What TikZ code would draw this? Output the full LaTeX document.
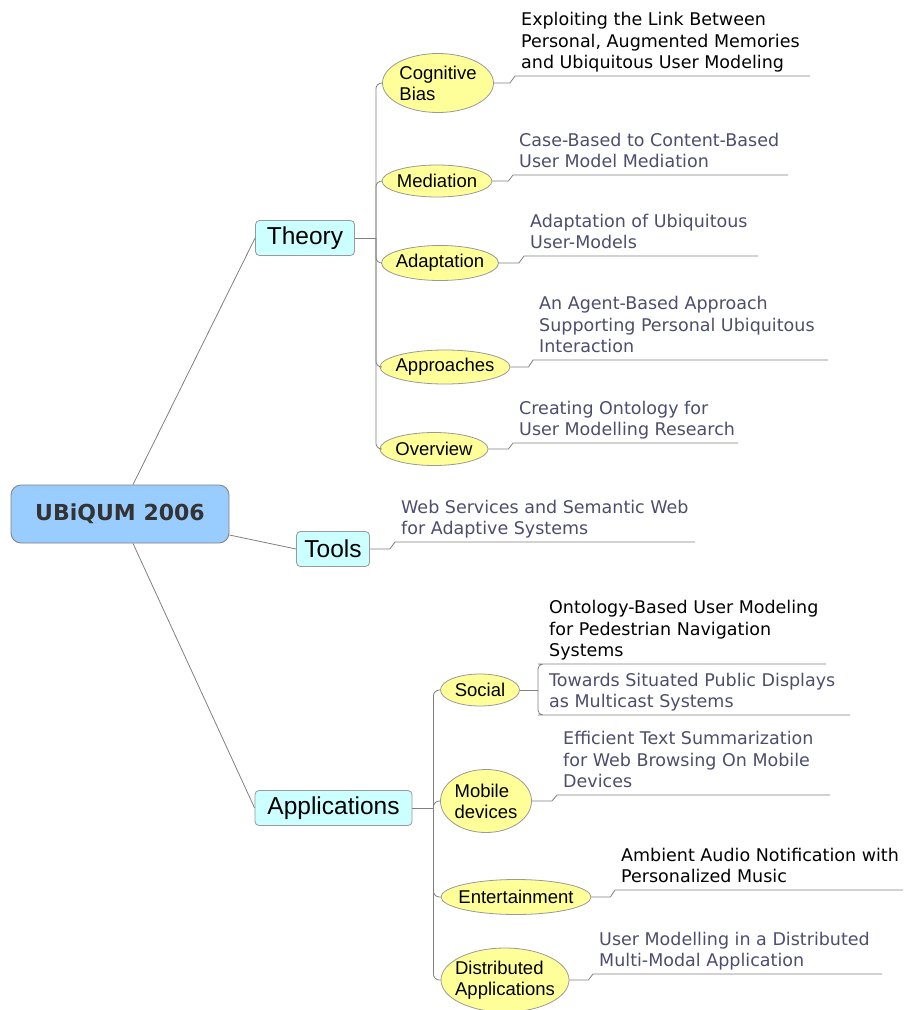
\documentclass[tikz,border=0pt]{standalone}
\usepackage{fontspec}
\usetikzlibrary{shapes.geometric}
\newfontfamily\leaffont{DejaVu Sans}
\newfontfamily\labfont{Liberation Sans}
\definecolor{rootblue}{HTML}{99CCFF}
\definecolor{topiccyan}{HTML}{CCFFFF}
\definecolor{ideayellow}{HTML}{FFFF99}
\definecolor{slate}{HTML}{4D4D6E}
\definecolor{wire}{HTML}{808080}
\begin{document}
\begin{tikzpicture}[x=1pt,y=-1pt,
  root/.style={draw=wire,line width=0.8pt,fill=rootblue,rounded corners=10pt,minimum width=218pt,minimum height=58pt,font=\fontsize{22}{26}\selectfont\leaffont\bfseries,text=black!80},
  topic/.style={draw=wire!80,line width=0.8pt,fill=topiccyan,rounded corners=4pt,minimum height=35pt,inner xsep=4pt,font=\fontsize{24.5}{28}\selectfont\labfont},
  idea/.style={ellipse,draw=wire!80,line width=0.8pt,fill=ideayellow,inner xsep=-6pt,inner ysep=0pt,align=left,font=\fontsize{18.5}{21}\selectfont\labfont},
  paper/.style={anchor=south west,inner xsep=6pt,inner ysep=0.5pt,align=left,text=slate,font=\fontsize{17.5}{21.5}\selectfont\leaffont,execute at end node=\strut},
  edge/.style={draw=wire,line width=0.8pt}]
\useasboundingbox (0,0) rectangle (903,1010);

% central topic and main branches
\node[root] (ubi) at (120,514) {UBiQUM 2006};
\node[topic,minimum width=99pt] (th) at (305,238) {Theory};
\node[topic,minimum width=73pt] (tl) at (333,549) {Tools};
\node[topic,minimum width=157pt] (ap) at (333.5,808) {Applications};

% sub topics
\node[idea,minimum width=111pt,minimum height=59pt] (cb) at (438,83) {Cognitive\\Bias};
\node[idea,minimum width=110pt,minimum height=32pt] (med) at (437,181) {Mediation};
\node[idea,minimum width=117pt,minimum height=35pt] (ada) at (440,263) {Adaptation};
\node[idea,minimum width=130pt,minimum height=34pt] (apr) at (445,367) {Approaches};
\node[idea,minimum width=108pt,minimum height=33pt] (ovw) at (434,449) {Overview};
\node[idea,minimum width=79pt,minimum height=32pt] (soc) at (480,690) {Social};
\node[idea,minimum width=91pt,minimum height=63pt] (mob) at (486,801) {Mobile\\devices};
\node[idea,minimum width=150pt,minimum height=35pt] (ent) at (516,897) {Entertainment};
\node[idea,minimum width=128pt,minimum height=64pt] (dis) at (505,980) {Distributed\\Applications};

% papers
\node[paper,text=black] (p1) at (515,76) {Exploiting the Link Between\\Personal, Augmented Memories\\and Ubiquitous User Modeling};
\node[paper] (p2) at (513,175) {Case-Based to Content-Based\\User Model Mediation};
\node[paper] (p3) at (524,256) {Adaptation of Ubiquitous\\User-Models};
\node[paper] (p4) at (533,360) {An Agent-Based Approach\\Supporting Personal Ubiquitous\\Interaction};
\node[paper] (p5) at (513,443) {Creating Ontology for\\User Modelling Research};
\node[paper] (p6) at (395,542) {Web Services and Semantic Web\\for Adaptive Systems};
\node[paper,text=black] (p7) at (543,664) {Ontology-Based User Modeling\\for Pedestrian Navigation\\Systems};
\node[paper] (p8) at (543,715) {Towards Situated Public Displays\\as Multicast Systems};
\node[paper] (p9) at (557,795) {Efficient Text Summarization\\for Web Browsing On Mobile\\Devices};
\node[paper,text=black] (p10) at (615,890) {Ambient Audio Notification with\\Personalized Music};
\node[paper] (p11) at (593,974) {User Modelling in a Distributed\\Multi-Modal Application};

% branches
\draw[edge] ([xshift=13pt]ubi.north) -- (th.west);
\draw[edge] ([yshift=-21pt]ubi.east) -- (tl.west);
\draw[edge] ([xshift=13pt]ubi.south) -- (ap.west);

\draw[edge] (th.east) -- ++(21,0) coordinate (tj);
\foreach \n in {cb,med,ada,apr,ovw}
  \draw[edge,rounded corners=6pt] (tj) |- (\n.west);
\draw[edge] (ap.east) -- ++(21,0) coordinate (aj);
\foreach \n in {soc,mob,ent,dis}
  \draw[edge,rounded corners=6pt] (aj) |- (\n.west);

% underlines
\draw[edge] (cb.east) -- ++(16,0) -- (p1.south west) -- ++(295,0);
\draw[edge] (med.east) -- ++(16,0) -- (p2.south west) -- ++(275,0);
\draw[edge] (ada.east) -- ++(20,0) -- (p3.south west) -- ++(234,0);
\draw[edge] (apr.east) -- ++(18,0) -- (p4.south west) -- ++(295,0);
\draw[edge] (ovw.east) -- ++(20,0) -- (p5.south west) -- ++(225,0);
\draw[edge] (tl.east) -- ++(20,0) -- (p6.south west) -- ++(300,0);
\draw[edge] (soc.east) -- ++(18,0) coordinate (sj);
\draw[edge,rounded corners=5pt] (sj) |- (p7.south west) -- ++(283,0);
\draw[edge,rounded corners=5pt] (sj) |- (p8.south west) -- ++(307,0);
\draw[edge] (mob.east) -- ++(20,0) -- (p9.south west) -- ++(273,0);
\draw[edge] (ent.east) -- ++(19,0) -- (p10.south west) -- ++(288,0);
\draw[edge] (dis.east) -- ++(19,0) -- (p11.south west) -- ++(289,0);
\end{tikzpicture}
\end{document}
